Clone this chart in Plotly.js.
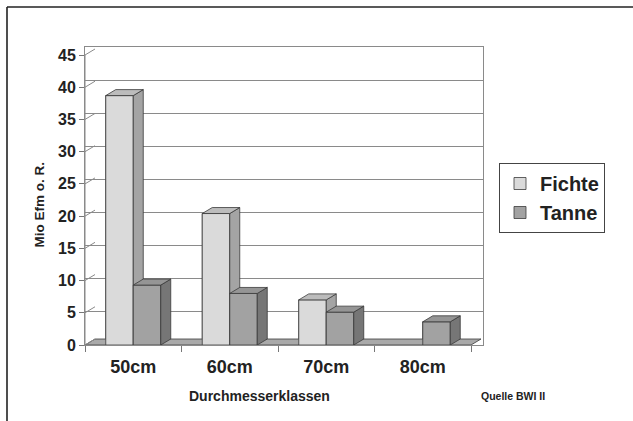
<!DOCTYPE html>
<html><head><meta charset="utf-8">
<script src="https://cdn.plot.ly/plotly-3.0.1.min.js"></script>
<style>html,body{margin:0;padding:0;background:#fff}#chart{width:633px;height:421px}</style>
</head><body><div id="chart"></div>
<script>
// ---- data ----
const categories = ['50cm', '60cm', '70cm', '80cm'];
const fichte = [38.7, 20.4, 7.0, 0];
const tanne = [9.3, 8.0, 5.1, 3.6];
const seriesNames = ['Fichte', 'Tanne'];
const yTicks = [0, 5, 10, 15, 20, 25, 30, 35, 40, 45];
const yMax = 45;

// ---- geometry / style ----
const W = 633, H = 421, L = 85, T = 47, R = 150, B = 76;
const plotW = W - L - R, plotH = H - T - B;
const frontW = 386, frontH = 290;
const nCat = categories.length;
const pxCat = frontW / nCat, pxUnit = frontH / yMax;
const OX = 10, OY = 6;
const DX = OX / pxCat, DY = OY / pxUnit;
const BW = 27.5 / pxCat;
const xs = categories.map((c, i) => i);
const FONT = 'Liberation Sans, Arial, sans-serif';
const EDGE = '#3a3a3a';
const colors = {
  Fichte: {front: '#dadada', side: '#a4a4a4', top: '#bcbcbc'},
  Tanne: {front: '#a2a2a2', side: '#767676', top: '#959595'}
};

function px2paperX(p) { return (p - L) / plotW; }
function px2paperY(p) { return (H - B - p) / plotH; }

function faces(vals, off) {
  const f = {x: [], y: []}, s = {x: [], y: []}, t = {x: [], y: []};
  vals.forEach((v, i) => {
    if (!(v > 0)) return;
    const x0 = i + off, x1 = x0 + BW;
    f.x.push(x0, x1, x1, x0, x0, null); f.y.push(0, 0, v, v, 0, null);
    s.x.push(x1, x1 + DX, x1 + DX, x1, x1, null); s.y.push(0, DY, v + DY, v, 0, null);
    t.x.push(x0, x1, x1 + DX, x0 + DX, x0, null); t.y.push(v, v, v + DY, v + DY, v, null);
  });
  return {f, s, t};
}

function poly(d, color, lw) {
  return {type: 'scatter', mode: 'lines', x: d.x, y: d.y, fill: 'toself', fillcolor: color,
    line: {color: EDGE, width: lw === undefined ? 0.8 : lw}, showlegend: false, hoverinfo: 'skip'};
}

const traces = [];
// legend-carrying bars (covered by faces drawn on top)
[[fichte, -BW, 'Fichte'], [tanne, 0, 'Tanne']].forEach(([vals, off, name]) => {
  traces.push({type: 'bar', name: name, x: xs, y: vals, width: BW, offset: off,
    marker: {color: colors[name].front, line: {color: EDGE, width: 0.8}}, hoverinfo: 'skip'});
});
// dummy for back wall axes
traces.push({type: 'scatter', x: [-5], y: [-5], xaxis: 'x2', yaxis: 'y2', mode: 'markers',
  marker: {opacity: 0}, showlegend: false, hoverinfo: 'skip'});
// floor
traces.push(poly({x: [-0.5, nCat - 0.5, nCat - 0.5 + DX, -0.5 + DX, -0.5],
  y: [0, 0, DY, DY, 0]}, '#a9a9a9', 0.8));
// left side wall lines
const sw = {x: [-0.5, -0.5, null], y: [0, yMax, null]};
yTicks.forEach(v => { sw.x.push(-0.5, -0.5 + DX, null); sw.y.push(v, v + DY, null); });
traces.push({type: 'scatter', mode: 'lines', x: sw.x, y: sw.y, line: {color: '#8a8a8a', width: 1},
  showlegend: false, hoverinfo: 'skip'});
// 3D bar faces
[[fichte, -BW, 'Fichte'], [tanne, 0, 'Tanne']].forEach(([vals, off, name]) => {
  const fc = faces(vals, off);
  traces.push(poly(fc.f, colors[name].front));
  traces.push(poly(fc.s, colors[name].side));
  traces.push(poly(fc.t, colors[name].top));
});

const layout = {
  width: W, height: H, margin: {l: L, r: R, t: T, b: B, pad: 0},
  paper_bgcolor: '#fff', plot_bgcolor: 'rgba(0,0,0,0)',
  barmode: 'overlay', showlegend: true,
  font: {family: FONT, color: '#222'},
  xaxis: {range: [-0.5, -0.5 + plotW / pxCat], domain: [0, 1], tickmode: 'array', tickvals: xs,
    ticktext: categories, ticks: '', showgrid: false, zeroline: false, showline: false,
    ticklabelstandoff: 9,
    tickfont: {family: FONT, size: 18, weight: 'bold', color: '#222'}, fixedrange: true,
    minor: {tick0: -0.5, dtick: 1, ticks: 'outside', ticklen: 6, tickwidth: 1, tickcolor: '#777', showgrid: false}},
  yaxis: {range: [0, plotH / pxUnit], domain: [0, 1], tickmode: 'array', tickvals: yTicks,
    ticks: 'outside', ticklen: 5, tickcolor: '#777', showgrid: false, zeroline: false, showline: false,
    tickfont: {family: FONT, size: 16, weight: 'bold', color: '#222'}},
  xaxis2: {overlaying: 'x', anchor: 'y2', domain: [OX / plotW, (OX + frontW) / plotW], range: [-0.5, nCat - 0.5],
    showgrid: false, zeroline: false, showline: true, mirror: true, linecolor: '#8a8a8a', linewidth: 1,
    showticklabels: false, ticks: '', layer: 'below traces'},
  yaxis2: {overlaying: 'y', anchor: 'x2', domain: [OY / plotH, (OY + frontH) / plotH], range: [0, yMax],
    tickmode: 'array', tickvals: yTicks, showgrid: true, gridcolor: '#8a8a8a', gridwidth: 1,
    zeroline: false, showline: true, mirror: true, linecolor: '#8a8a8a', linewidth: 1,
    showticklabels: false, ticks: '', layer: 'below traces'},
  legend: {x: px2paperX(499), y: px2paperY(163), xanchor: 'left', yanchor: 'top',
    itemwidth: 30, bordercolor: '#444', borderwidth: 1, bgcolor: '#fff',
    font: {family: FONT, size: 20, weight: 'bold', color: '#222'}},
  annotations: [
    {text: 'Durchmesserklassen', xref: 'paper', yref: 'paper', x: px2paperX(259), y: px2paperY(396),
      xanchor: 'center', yanchor: 'middle', showarrow: false,
      font: {family: FONT, size: 14, weight: 'bold', color: '#222'}},
    {text: 'Quelle BWI II', xref: 'paper', yref: 'paper', x: px2paperX(513), y: px2paperY(396),
      xanchor: 'center', yanchor: 'middle', showarrow: false,
      font: {family: FONT, size: 10.5, weight: 'bold', color: '#222'}},
    {text: 'Mio Efm o. R.', xref: 'paper', yref: 'paper', x: px2paperX(39), y: px2paperY(204.5),
      xanchor: 'center', yanchor: 'middle', showarrow: false, textangle: -90,
      font: {family: FONT, size: 13.5, weight: 'bold', color: '#222'}}
  ],
  shapes: [
    {type: 'line', xref: 'paper', yref: 'paper', x0: px2paperX(7), x1: px2paperX(W), y0: px2paperY(7), y1: px2paperY(7),
      line: {color: '#222', width: 1.6}},
    {type: 'line', xref: 'paper', yref: 'paper', x0: px2paperX(7), x1: px2paperX(7), y0: px2paperY(7), y1: px2paperY(H),
      line: {color: '#222', width: 1.6}}
  ]
};

Plotly.newPlot('chart', traces, layout, {staticPlot: true, displayModeBar: false});
</script>
</body></html>
